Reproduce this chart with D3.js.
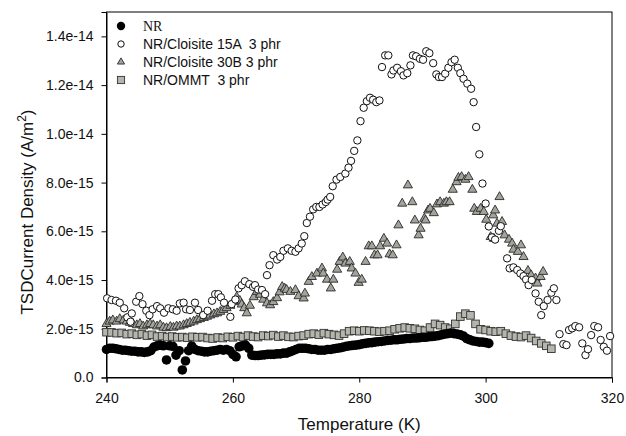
<!DOCTYPE html>
<html><head><meta charset="utf-8">
<script src="https://cdn.jsdelivr.net/npm/d3@7"></script>
<style>
html,body{margin:0;padding:0;background:#fff;}
svg{display:block;font-family:"Liberation Sans",Arial,sans-serif;}
text{white-space:pre;}
</style></head>
<body><svg id="chart" width="626" height="436"></svg>
<script>
// ---- data (current density in units of 1e-15 A/m^2) ----
const seriesNames = ["NR", "NR/Cloisite 15A  3 phr", "NR/Cloisite 30B 3 phr", "NR/OMMT  3 phr"];
const xTicks = [240, 260, 280, 300, 320];
const yTicks = [0, 2, 4, 6, 8, 10, 12, 14];
const yTickLabels = ["0.0", "2.0e-15", "4.0e-15", "6.0e-15", "8.0e-15", "1.0e-14", "1.2e-14", "1.4e-14"];

const nrT = [240,240.5,241,241.5,242,242.5,243,243.5,244,244.5,245,245.5,246,246.5,247,247.5,248,248.5,249,249.5,250,250.5,251,251.5,252,252.5,253,253.5,254,254.5,255,255.5,256,256.5,257,257.5,258,258.5,259,259.5,260,260.5,261,261.5,262,262.5,263,263.5,264,264.5,265,265.5,266,266.5,267,267.5,268,268.5,269,269.5,270,270.5,271,271.5,272,272.5,273,273.5,274,274.5,275,275.5,276,276.5,277,277.5,278,278.5,279,279.5,280,280.5,281,281.5,282,282.5,283,283.5,284,284.5,285,285.5,286,286.5,287,287.5,288,288.5,289,289.5,290,290.5,291,291.5,292,292.5,293,293.5,294,294.5,295,295.5,296,296.5,297,297.5,298,298.5,299,299.5,300,300.5];
const nrV = [1.15,1.2,1.2,1.18,1.15,1.12,1.12,1.1,1.08,1.08,1.05,1.05,1.03,1.05,1.1,1.25,1.3,1.33,1.3,0.72,1.3,1.28,0.92,1.1,0.31,0.68,1.1,1.29,1.15,1.1,1.08,1.05,1.05,1.08,1.1,1.12,1.15,1.12,1.15,1.1,0.95,0.85,1.26,1.3,1.33,1.2,0.92,0.9,0.9,0.92,0.93,0.95,0.95,0.95,0.97,0.97,1.0,1.0,1.05,1.1,1.15,1.2,1.2,1.2,1.18,1.15,1.15,1.12,1.12,1.12,1.15,1.15,1.18,1.2,1.22,1.25,1.28,1.3,1.32,1.33,1.35,1.38,1.4,1.42,1.43,1.45,1.47,1.48,1.5,1.52,1.53,1.55,1.55,1.57,1.58,1.6,1.6,1.62,1.62,1.63,1.65,1.65,1.67,1.68,1.7,1.72,1.75,1.78,1.8,1.82,1.8,1.78,1.75,1.7,1.6,1.55,1.5,1.48,1.45,1.45,1.43,1.4];

const c15T = [240.1,240.8,241.5,242.1,242.8,243.3,243.8,244.0,244.7,245.2,245.7,246.3,246.8,247.3,248.0,248.5,249.1,249.8,250.5,251.1,251.6,252.2,252.6,253.2,254.0,254.5,255.3,256.0,256.7,257.2,257.7,258.1,258.6,259.6,259.8,260.4,260.9,261.4,261.9,262.6,263.2,263.5,264.0,264.6,265.1,265.4,265.8,266.4,267.0,267.5,268.0,268.7,269.3,269.9,270.4,270.9,271.3,271.7,272.2,272.7,273.2,273.7,274.2,274.7,275.0,275.4,275.8,276.4,277.0,277.8,278.3,278.7,279.2,279.7,280.2,280.7,281.2,281.7,282.2,282.7,283.2,283.6,284.1,284.6,285.1,285.4,286.0,286.6,287.0,287.6,288.1,288.5,289.0,289.6,290.1,290.6,291.1,291.7,292.2,292.6,293.1,293.6,294.1,294.6,295.1,295.6,296.0,296.5,297.1,297.7,298.1,298.5,299.0,299.5,300.0,300.5,301.0,301.5,302.1,302.4,303.4,303.8,304.4,305.0,305.5,306.0,306.4,306.8,307.3,307.9,308.4,308.8,309.2,309.8,310.4,310.8,311.2,311.7,312.3,312.8,313.2,313.7,314.2,314.8,315.3,315.8,316.2,316.7,317.2,317.8,318.2,318.7,319.2,319.7];
const c15V = [3.25,3.18,3.15,3.07,2.84,2.47,2.29,2.63,3.11,3.34,3.01,2.74,2.56,2.8,2.93,2.84,2.66,2.84,2.8,2.74,3.04,3.07,2.8,2.77,3.07,2.77,2.56,2.74,3.15,3.42,3.42,3.29,3.07,2.49,3.01,3.2,3.66,3.79,3.95,3.83,3.72,3.79,3.61,3.59,3.42,4.2,4.61,5.02,4.84,4.95,5.2,5.3,5.2,5.16,5.3,5.5,5.8,6.34,6.6,6.9,7.0,7.0,7.1,7.2,7.3,7.41,7.85,8.12,8.23,8.37,8.61,8.89,9.3,9.73,10.52,11.07,11.34,11.48,11.4,11.3,11.37,12.74,13.22,13.22,12.44,12.6,12.71,12.57,12.4,12.49,12.81,13.22,13.18,13.08,13.04,13.39,13.31,12.9,12.44,12.33,12.33,12.47,12.71,12.94,13.04,12.71,12.49,12.26,12.06,11.85,11.3,10.28,9.16,7.96,7.14,6.2,5.75,5.66,6.02,6.21,4.89,4.48,4.52,4.41,4.27,4.16,4.02,3.79,4.0,3.45,3.11,2.56,2.93,3.18,3.48,3.66,3.18,1.78,1.37,1.33,1.95,2.02,2.11,2.06,1.4,0.92,1.16,1.74,2.11,2.06,1.54,1.26,1.1,1.7];

const c30T = [240.0,240.5,241.0,241.6,242.1,242.7,243.2,243.7,244.2,244.8,245.3,245.8,246.4,246.9,247.4,248.0,248.5,249.0,249.5,250.1,250.6,251.1,251.6,252.2,252.7,253.2,253.8,254.3,254.8,255.4,255.9,256.4,257.0,257.5,258.0,258.5,259.0,259.6,260.1,260.6,261.1,261.4,261.8,262.2,262.7,263.3,263.8,264.3,264.8,265.4,265.9,266.4,267.0,267.4,267.8,268.2,268.5,269.1,269.9,270.4,271.2,271.4,272.0,272.5,273.3,274.1,274.3,274.9,275.5,275.9,276.5,276.9,277.4,277.8,278.5,278.8,279.4,279.9,280.4,281.0,281.5,282.0,282.4,282.9,283.3,283.9,284.4,284.8,285.3,285.9,286.2,286.8,287.7,288.4,288.8,289.4,289.7,290.3,290.5,290.9,291.2,291.8,292.3,292.8,293.4,293.8,294.3,294.8,295.4,295.7,296.2,296.8,297.3,297.9,298.2,298.6,299.2,299.7,300.1,300.8,301.2,301.3,301.5,301.8,302.2,302.6,303.0,303.7,304.2,304.4,305.1,305.6,306.0,306.7,307.2,307.9,308.2,308.7,309.1];
const c30V = [2.2,2.3,2.35,2.3,2.4,2.35,2.3,2.25,2.2,2.15,2.2,2.1,2.15,2.2,2.15,2.1,2.15,2.05,2.03,2.08,2.05,2.1,2.1,2.15,2.2,2.25,2.3,2.36,2.4,2.45,2.5,2.55,2.6,2.64,2.7,2.78,2.85,2.95,3.1,3.3,3.15,3.0,2.85,2.64,2.95,3.3,3.52,3.4,3.2,3.05,2.97,3.1,3.26,3.5,3.72,3.65,3.6,3.52,3.59,3.34,3.25,3.45,3.93,4.13,4.27,4.48,4.27,4.02,3.66,4.02,4.43,4.75,4.93,4.68,4.75,4.48,4.27,3.89,4.02,4.75,5.39,5.39,5.02,5.02,5.39,5.7,5.5,5.06,5.02,5.43,6.25,7.14,7.89,7.2,6.45,5.84,6.11,6.52,6.45,6.86,6.93,6.75,7.11,7.2,7.14,7.2,7.2,7.71,8.02,8.2,8.23,8.12,8.23,7.71,6.93,6.8,6.93,6.8,6.48,5.77,6.66,5.7,6.86,6.32,7.41,6.39,5.84,5.66,5.5,5.25,5.16,5.43,4.95,4.38,4.2,4.07,3.86,4.13,4.34];

const ommtT = [240.0,240.8,241.6,242.4,243.2,244.0,244.8,245.6,246.4,247.2,248.0,248.8,249.6,250.4,251.2,252.0,252.8,253.6,254.4,255.2,256.0,256.8,257.6,258.4,259.2,260.0,260.8,261.6,262.4,263.2,264.0,264.8,265.6,266.4,267.2,268.0,268.8,269.6,270.4,271.2,272.0,272.8,273.6,274.4,275.2,276.0,276.8,277.6,278.4,279.2,280.0,280.8,281.6,282.4,283.2,284.0,284.8,285.6,286.4,287.2,288.0,288.8,289.6,290.4,291.2,292.0,292.8,293.6,294.4,295.2,296.0,296.8,297.6,298.4,299.2,300.0,300.8,301.6,302.4,303.2,304.0,304.8,305.6,306.4,307.2,308.0,308.8,309.6,310.4];
const ommtV = [1.86,1.85,1.82,1.83,1.78,1.8,1.75,1.78,1.72,1.75,1.68,1.7,1.66,1.68,1.65,1.66,1.63,1.67,1.65,1.66,1.62,1.6,1.64,1.62,1.67,1.65,1.7,1.66,1.72,1.68,1.66,1.72,1.7,1.74,1.68,1.72,1.67,1.66,1.7,1.72,1.78,1.8,1.76,1.82,1.78,1.75,1.72,1.8,1.9,1.92,1.9,1.93,1.92,1.9,1.88,1.9,1.92,1.98,2.02,2.05,2.02,2.0,1.95,1.92,2.05,2.2,2.15,2.05,2.0,2.2,2.5,2.62,2.55,2.2,1.98,1.95,1.9,1.88,1.9,1.8,1.72,1.68,1.66,1.72,1.62,1.5,1.4,1.3,1.18];

// ---- layout ----
const svg = d3.select("#chart");
const L = 106.5, R = 612, T = 12, B = 377.5;
const x = d3.scaleLinear().domain([240, 320]).range([L, R]);
const y = d3.scaleLinear().domain([0, 15]).range([B, T]);
const font = '"Liberation Sans", Arial, sans-serif';

const zip = (a, b) => a.map((t, i) => [t, b[i]]);

// plot frame
svg.append("rect").attr("x", L).attr("y", T).attr("width", R - L).attr("height", B - T)
  .attr("fill", "none").attr("stroke", "#000").attr("stroke-width", 1);

// axes
const xAxis = d3.axisBottom(x).tickValues(xTicks).tickSize(5).tickPadding(11).tickFormat(d3.format("d"));
const yAxis = d3.axisLeft(y).tickValues(yTicks).tickSize(5).tickPadding(8)
  .tickFormat((d, i) => yTickLabels[i]);
const gx = svg.append("g").attr("transform", `translate(0,${B})`).call(xAxis);
const gy = svg.append("g").attr("transform", `translate(${L},0)`).call(yAxis);
[gx, gy].forEach(g => {
  g.select(".domain").attr("stroke", "#000");
  g.selectAll(".tick line").attr("stroke", "#000");
  g.selectAll("text").attr("font-family", font).attr("font-size", 14).attr("fill", "#111");
});

// axis titles
svg.append("text").attr("x", (L + R) / 2).attr("y", 430).attr("text-anchor", "middle")
  .attr("font-family", font).attr("font-size", 17).attr("fill", "#111").text("Temperature (K)");
const yt = svg.append("text").attr("transform", "translate(33,212) rotate(-90)")
  .attr("text-anchor", "middle").attr("font-family", font).attr("font-size", 17).attr("fill", "#111");
yt.append("tspan").text("TSDCurrent Density (A/m");
yt.append("tspan").attr("dy", -7).attr("font-size", 12).text("2");
yt.append("tspan").attr("dy", 7).text(")");

// marks
const plot = svg.append("g");
const triSym = d3.symbol().type(d3.symbolTriangle).size(36);
const sqSide = 7.6;

// 30B triangles
plot.append("g").selectAll("path").data(zip(c30T, c30V)).join("path")
  .attr("d", triSym).attr("transform", d => `translate(${x(d[0])},${y(d[1])})`)
  .attr("fill", "#a3a39b").attr("stroke", "#2a2a2a").attr("stroke-width", 0.9);
// 15A open circles
plot.append("g").selectAll("circle").data(zip(c15T, c15V)).join("circle")
  .attr("cx", d => x(d[0])).attr("cy", d => y(d[1])).attr("r", 3.7)
  .attr("fill", "#fff").attr("stroke", "#111").attr("stroke-width", 1);
// OMMT squares
plot.append("g").selectAll("rect").data(zip(ommtT, ommtV)).join("rect")
  .attr("x", d => x(d[0]) - sqSide / 2).attr("y", d => y(d[1]) - sqSide / 2)
  .attr("width", sqSide).attr("height", sqSide)
  .attr("fill", "#b5b5ad").attr("stroke", "#333").attr("stroke-width", 0.9);
// NR filled circles
plot.append("g").selectAll("circle").data(zip(nrT, nrV)).join("circle")
  .attr("cx", d => x(d[0])).attr("cy", d => y(d[1])).attr("r", 4.8)
  .attr("fill", "#000");

// legend
const lg = svg.append("g");
const rowsY = [26, 44, 62, 80];
const mx = 121, tx = 143;
lg.append("circle").attr("cx", mx).attr("cy", rowsY[0]).attr("r", 4.2).attr("fill", "#000");
lg.append("circle").attr("cx", mx).attr("cy", rowsY[1]).attr("r", 3.2).attr("fill", "#fff").attr("stroke", "#111");
lg.append("path").attr("d", d3.symbol().type(d3.symbolTriangle).size(22)).attr("transform", `translate(${mx},${rowsY[2]})`)
  .attr("fill", "#a3a39b").attr("stroke", "#2a2a2a").attr("stroke-width", 0.9);
lg.append("rect").attr("x", mx - 3.6).attr("y", rowsY[3] - 3.6).attr("width", 7.2).attr("height", 7.2)
  .attr("fill", "#b5b5ad").attr("stroke", "#333").attr("stroke-width", 0.9);
seriesNames.forEach((s, i) => {
  lg.append("text").attr("x", tx).attr("y", rowsY[i] + 5)
    .attr("font-family", i === 0 ? '"Liberation Serif", "Times New Roman", serif' : font)
    .attr("font-size", 14).attr("fill", "#111").attr("xml:space", "preserve").text(s);
});
</script></body></html>
